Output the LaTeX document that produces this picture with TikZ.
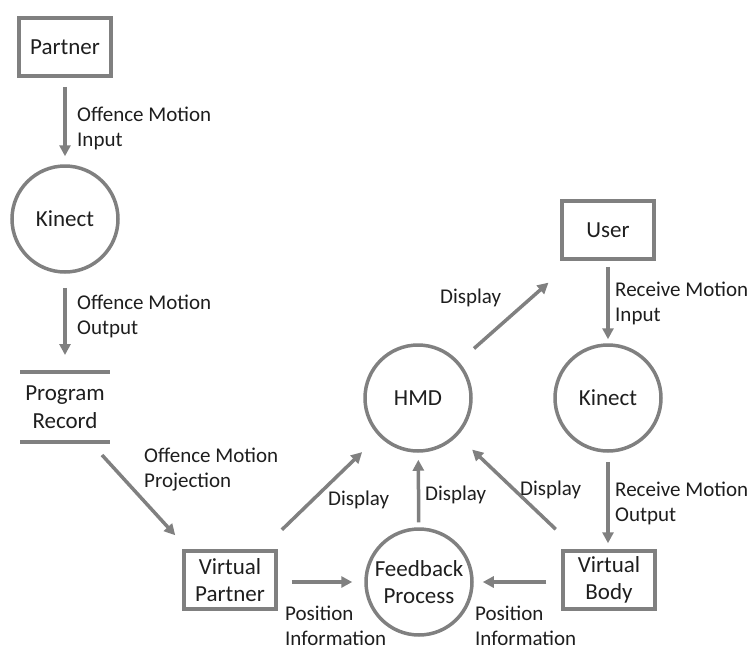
\documentclass[tikz,border=0pt]{standalone}
\usepackage{fontspec}
\setmainfont{Carlito}
\usetikzlibrary{arrows.meta}

\definecolor{lineGray}{RGB}{128,128,128}
\definecolor{textGray}{RGB}{30,30,30}

\tikzset{
    entity/.style={draw=lineGray, line width=3.5pt, minimum width=92pt, minimum height=58pt,
        text=textGray, font=\fontsize{23}{27}\selectfont, align=center, inner sep=1pt},
    process/.style={circle, draw=lineGray, line width=3.5pt, minimum size=106pt,
        text=textGray, font=\fontsize{23}{27}\selectfont, align=center, inner sep=0pt},
    store/.style={minimum width=90pt, minimum height=70pt, outer sep=0pt,
        text=textGray, font=\fontsize{23}{28}\selectfont, align=center},
    flow/.style={draw=lineGray, line width=3.5pt, -{Triangle[length=11pt,width=11pt]}},
    lbl/.style={anchor=west, text=textGray, font=\fontsize{21}{25}\selectfont, align=left, inner sep=0pt},
}

\begin{document}
\begin{tikzpicture}[x=1pt, y=-1pt]
    \useasboundingbox (0,0) rectangle (750,651);

    % partner side
    \node[entity] (partner) at (65,47) {Partner};
    \node[process] (kinectP) at (65,219) {Kinect};
    \node[store] (record) at (65,407) {Program\\Record};
    \draw[lineGray, line width=3.5pt] (record.north west) -- (record.north east);
    \draw[lineGray, line width=3.5pt] (record.south west) -- (record.south east);
    \node[entity] (vpartner) at (230,580) {Virtual\\Partner};

    % user side
    \node[entity] (user) at (608,230) {User};
    \node[process] (kinectU) at (608,398) {Kinect};
    \node[entity] (vbody) at (609,580) {Virtual\\Body};

    % middle
    \node[process] (hmd) at (418,398) {HMD};
    \node[process] (feedback) at (419,582) {Feedback\\Process};

    % flows
    \draw[flow, shorten <=9pt, shorten >=8pt] (partner) -- (kinectP);
    \draw[flow, shorten <=14pt, shorten >=17pt] (kinectP) -- (record);
    \draw[flow] ([xshift=37pt, yshift=-13pt]record.south) -- ([xshift=-7pt, yshift=14pt]vpartner.north west);
    \draw[flow, shorten <=14pt, shorten >=12pt] (vpartner.east |- 0,582) -- (feedback.west |- 0,582);
    \draw[flow, shorten <=15pt, shorten >=9pt] (vbody.west |- 0,582) -- (feedback.east |- 0,582);
    \draw[flow, shorten <=5pt, shorten >=7pt] (feedback) -- (hmd);
    \draw[flow, shorten <=28pt, shorten >=23pt] (vpartner) -- (hmd);
    \draw[flow, shorten <=29pt, shorten >=20pt] (vbody) -- (hmd);
    \draw[flow, shorten <=20pt, shorten >=33pt] (hmd) -- (user);
    \draw[flow, shorten <=6pt, shorten >=4pt] (user) -- (kinectU);
    \draw[flow, shorten <=9pt, shorten >=6pt] (kinectU) -- (kinectU |- vbody.north);

    % flow labels
    \node[lbl] (lblInput) at (77,128) {Offence Motion\\Input};
    \node[lbl] (lblOutput) at (77,316) {Offence Motion\\Output};
    \node[lbl] (lblProj) at (144,470) {Offence Motion\\Projection};
    \node[lbl] (lblShow) at (440,298) {Display};
    \node[lbl] (lblRecvIn) at (615,303) {Receive Motion\\Input};
    \node[lbl] (lblRecvOut) at (615,503) {Receive Motion\\Output};
    \node[lbl] (lblShowP) at (328,500) {Display};
    \node[lbl] (lblShowF) at (425,495) {Display};
    \node[lbl] (lblShowB) at (520,490) {Display};
    \node[lbl] (lblPosP) at (285,626) {Position\\Information};
    \node[lbl] (lblPosB) at (475,626) {Position\\Information};
\end{tikzpicture}
\end{document}
